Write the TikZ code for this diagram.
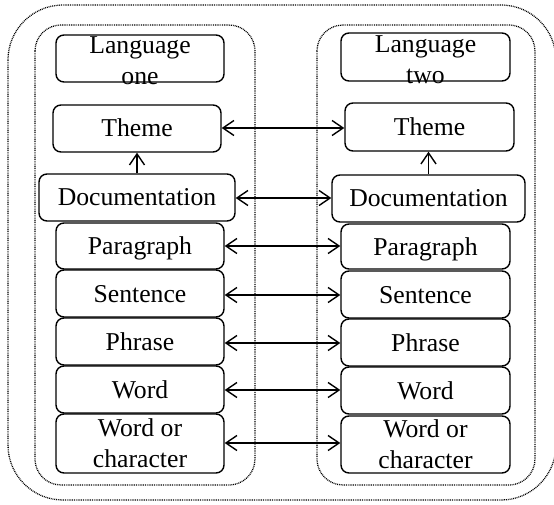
\documentclass[tikz,border=0pt]{standalone}
\usepackage{fontspec}
\setmainfont{Liberation Serif}
\usetikzlibrary{arrows.meta,calc}
\begin{document}
\begin{tikzpicture}[x=1pt,y=-1pt,
  every node/.style={font=\fontsize{25.7}{31}\selectfont},
  cell/.style={draw,line width=1.4pt,rounded corners=8pt,inner sep=0pt},
  oneline/.style={cell,text height=17pt,text depth=0pt},
  frame/.style={line width=1.3pt,dash pattern=on 0.9pt off 0.9pt},
  link/.style={line width=1.4pt,{Straight Barb[length=11pt,width=15pt]}-{Straight Barb[length=11pt,width=15pt]}},
  up/.style={line width=1.4pt,-{Straight Barb[length=11pt,width=15pt]}}
]
\useasboundingbox (0,0) rectangle (554,505);
\clip (0,0) rectangle (554,505);

% dotted frames
\draw[frame,rounded corners=55pt] (8,5) rectangle (556,500);
\draw[frame,rounded corners=26pt] (35,25) rectangle (255,485);
\draw[frame,rounded corners=26pt] (317,25) rectangle (535,485);

% language one column
\node[cell,minimum width=168pt,minimum height=47pt] (lone) at (140,58.5) {};
\node[anchor=base,inner sep=0pt] (lonea) at (140,54) {Language};
\node[anchor=base,inner sep=0pt] (loneb) at (140,85) {one};
\node[oneline,minimum width=168pt,minimum height=47pt] (lth) at (137,128.5) {Theme};
\node[oneline,minimum width=196pt,minimum height=47pt] (ldoc) at (137,197.5) {Documentation};
\node[oneline,minimum width=168pt,minimum height=46pt] (lpar) at (140,246) {Paragraph};
\node[oneline,minimum width=168pt,minimum height=47pt] (lsen) at (140,293.5) {Sentence};
\node[oneline,minimum width=168pt,minimum height=47pt] (lphr) at (140,341.5) {Phrase};
\node[oneline,minimum width=168pt,minimum height=47pt] (lwrd) at (140,389.5) {Word};
\node[cell,minimum width=168pt,minimum height=59pt,align=center] (lwoc) at (140,443.5) {Word or\\character};

% language two column
\node[cell,minimum width=169pt,minimum height=48pt] (ltwo) at (425.5,57) {};
\node[anchor=base,inner sep=0pt] (ltwoa) at (425.5,53) {Language};
\node[anchor=base,inner sep=0pt] (ltwob) at (425.5,84) {two};
\node[oneline,minimum width=169pt,minimum height=48pt] (rth) at (429.5,127) {Theme};
\node[oneline,minimum width=193pt,minimum height=47pt] (rdoc) at (428.5,198.5) {Documentation};
\node[oneline,minimum width=169pt,minimum height=45pt] (rpar) at (425.5,246.5) {Paragraph};
\node[oneline,minimum width=169pt,minimum height=47pt] (rsen) at (425.5,294.5) {Sentence};
\node[oneline,minimum width=169pt,minimum height=47pt] (rphr) at (425.5,342.5) {Phrase};
\node[oneline,minimum width=169pt,minimum height=47pt] (rwrd) at (425.5,390.5) {Word};
\node[cell,minimum width=169pt,minimum height=57pt,align=center] (rwoc) at (425.5,444.5) {Word or\\character};

% vertical links inside each column
\draw[up] (ldoc.north) -- (lth.south);
\draw[up] (rdoc.north) -- (rdoc.north |- rth.south);

% links between the two columns
\draw[link] ($(lth.east)+(0,-0.5)$) -- ($(lth.east -| rth.west)+(0,-0.5)$);
\draw[link] ($(ldoc.east)+(0,0.5)$) -- ($(ldoc.east -| rdoc.west)+(0,0.5)$);
\draw[link] (lpar.east) -- (lpar.east -| rpar.west);
\draw[link] ($(lsen.east)+(0,1.5)$) -- ($(lsen.east -| rsen.west)+(0,1.5)$);
\draw[link] ($(lphr.east)+(0,1.5)$) -- ($(lphr.east -| rphr.west)+(0,1.5)$);
\draw[link] ($(lwrd.east)+(0,0.5)$) -- ($(lwrd.east -| rwrd.west)+(0,0.5)$);
\draw[link] ($(lwoc.east)+(0,-0.5)$) -- ($(lwoc.east -| rwoc.west)+(0,-0.5)$);
\end{tikzpicture}
\end{document}
